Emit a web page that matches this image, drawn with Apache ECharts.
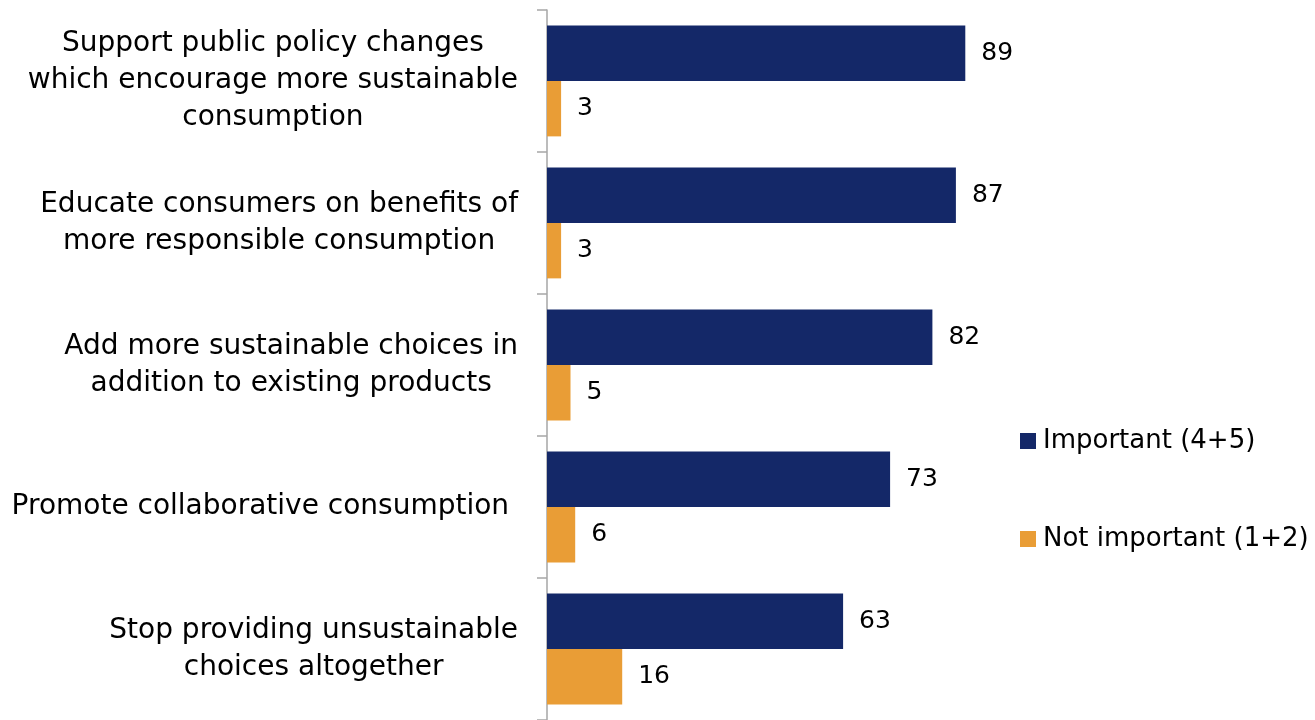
<!DOCTYPE html>
<html><head><meta charset="utf-8">
<script src="https://cdn.jsdelivr.net/npm/echarts@6/dist/echarts.min.js"></script>
<style>html,body{margin:0;padding:0;background:#fff}#c{width:1315px;height:720px}</style>
</head><body><div id="c"></div>
<script>
const categories = [
  "Support public policy changes\nwhich encourage more sustainable\nconsumption",
  "Educate consumers on benefits of\nmore responsible consumption",
  "Add more sustainable choices in\naddition to existing products",
  "Promote collaborative consumption ",
  "Stop providing unsustainable\nchoices altogether"
];
const important = [89, 87, 82, 73, 63];
const notImportant = [3, 3, 5, 6, 16];
const seriesNames = ["Important (4+5)", "Not important (1+2)"];

const FONT = "DejaVu Sans";
const chart = echarts.init(document.getElementById('c'));
chart.setOption({
  animation: false,
  textStyle: {fontFamily: FONT},
  grid: {left: 547, top: 10, width: 470, height: 710},
  legend: {
    orient: 'vertical', left: 1020, top: 428, itemGap: 72, padding: 0,
    itemWidth: 16, itemHeight: 16, icon: 'rect',
    textStyle: {fontSize: 26, color: '#000', fontFamily: FONT, padding: [0, 0, 0, 2]},
    data: seriesNames
  },
  xAxis: {type: 'value', min: 0, max: 100, show: false},
  yAxis: {
    type: 'category', inverse: true, data: categories,
    axisLine: {show: true, lineStyle: {color: '#a6a6a6', width: 1.5}},
    axisTick: {show: true, alignWithLabel: false, inside: false, length: 10, lineStyle: {color: '#a6a6a6', width: 1.5}},
    axisLabel: {
      margin: 29, align: 'right',
      formatter: v => v.split('\n').map(s => '{c|' + s + '}').join('\n'),
      rich: {c: {fontSize: 28, color: '#000', lineHeight: 37, align: 'center', fontFamily: FONT}}
    }
  },
  series: [
    {name: seriesNames[0], type: 'bar', data: important, barGap: '0%', barCategoryGap: '22%',
     itemStyle: {color: '#142868'},
     label: {show: true, position: 'right', distance: 16, fontSize: 25, color: '#000', fontFamily: FONT}},
    {name: seriesNames[1], type: 'bar', data: notImportant,
     itemStyle: {color: '#E99D36'},
     label: {show: true, position: 'right', distance: 16, fontSize: 25, color: '#000', fontFamily: FONT}}
  ]
});
</script></body></html>
